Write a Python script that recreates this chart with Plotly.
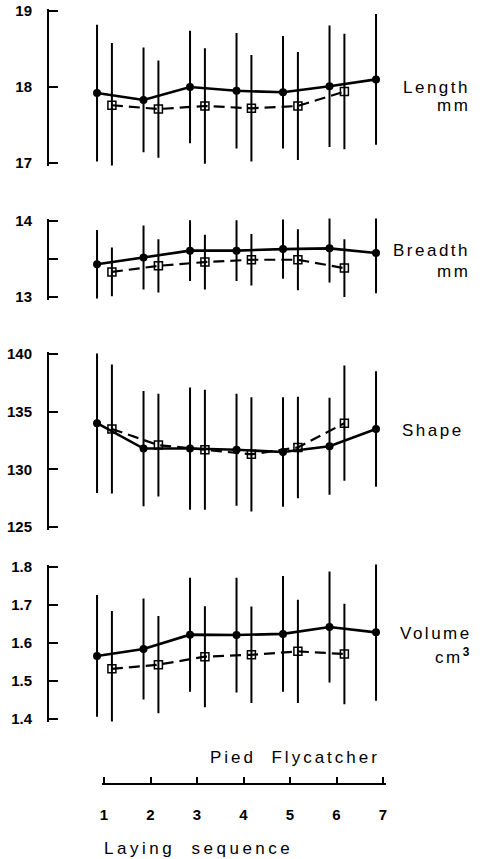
import plotly.graph_objects as go

# ---------------- data ----------------
seq_a = [1, 2, 3, 4, 5, 6, 7]
seq_b = [1, 2, 3, 4, 5, 6]
x_ticks = [1, 2, 3, 4, 5, 6, 7]

length_mean_a = [17.92, 17.83, 18.00, 17.95, 17.93, 18.01, 18.10]
length_sd_a = [0.90, 0.69, 0.74, 0.76, 0.74, 0.80, 0.86]
length_mean_b = [17.76, 17.71, 17.75, 17.72, 17.75, 17.94]
length_sd_b = [0.82, 0.64, 0.76, 0.70, 0.71, 0.76]

breadth_mean_a = [13.43, 13.52, 13.61, 13.61, 13.63, 13.64, 13.58]
breadth_sd_a = [0.45, 0.42, 0.40, 0.40, 0.39, 0.45, 0.53]
breadth_mean_b = [13.33, 13.41, 13.46, 13.49, 13.49, 13.38]
breadth_sd_b = [0.32, 0.35, 0.36, 0.34, 0.40, 0.38]

shape_mean_a = [134.0, 131.8, 131.8, 131.7, 131.5, 132.0, 133.5]
shape_sd_a = [6.05, 5.0, 5.3, 4.85, 4.75, 4.2, 5.0]
shape_mean_b = [133.5, 132.1, 131.7, 131.3, 131.9, 134.0]
shape_sd_b = [5.6, 4.45, 5.2, 4.95, 4.4, 5.0]

volume_mean_a = [1.566, 1.584, 1.622, 1.621, 1.624, 1.642, 1.628]
volume_sd_a = [0.160, 0.133, 0.150, 0.151, 0.152, 0.146, 0.180]
volume_mean_b = [1.532, 1.543, 1.564, 1.569, 1.578, 1.571]
volume_sd_b = [0.152, 0.128, 0.133, 0.127, 0.136, 0.132]

length_ticks = [17, 18, 19]
breadth_ticks = [13, 13.5, 14]
breadth_ticktext = ["13", " ", "14"]
shape_ticks = [125, 130, 135, 140]
volume_ticks = [1.4, 1.5, 1.6, 1.7, 1.8]
volume_ticktext = ["1.4", "1.5", "1.6", "1.7", "1.8"]

# ---------------- layout helpers ----------------
W, H = 482, 859
PAD = 2.5  # px of axis beyond the end ticks, so plotly keeps the end ticks
def px_x(p):
    return p / W
def px_y(p):
    return 1 - p / H

def y_geom(v0, p0, v1, p1):
    """value v0 at pixel row p0 (bottom), v1 at p1 (top) -> (domain, range)."""
    scale = (p0 - p1) / (v1 - v0)
    return ([px_y(p0 + PAD), px_y(p1 - PAD)], [v0 - PAD / scale, v1 + PAD / scale])

OFF_A = -0.15   # horizontal shift of filled-circle series
OFF_B = 0.17    # horizontal shift of open-square series

panels = [
    ("y", length_mean_a, length_sd_a, length_mean_b, length_sd_b),
    ("y2", breadth_mean_a, breadth_sd_a, breadth_mean_b, breadth_sd_b),
    ("y3", shape_mean_a, shape_sd_a, shape_mean_b, shape_sd_b),
    ("y4", volume_mean_a, volume_sd_a, volume_mean_b, volume_sd_b),
]

fig = go.Figure()
for yax, ma, sa, mb, sb in panels:
    fig.add_trace(go.Scatter(
        x=[s + OFF_B for s in seq_b], y=mb, xaxis="x", yaxis=yax,
        mode="lines+markers", cliponaxis=False, showlegend=False,
        line=dict(color="black", width=2.2, dash="11px,6px"),
        marker=dict(symbol="square-open", size=8, color="black", line=dict(width=1.5)),
        error_y=dict(type="data", array=sb, visible=True, color="black", thickness=2, width=0),
    ))
    fig.add_trace(go.Scatter(
        x=[s + OFF_A for s in seq_a], y=ma, xaxis="x", yaxis=yax,
        mode="lines+markers", cliponaxis=False, showlegend=False,
        line=dict(color="black", width=2.6),
        marker=dict(symbol="circle", size=8, color="black"),
        error_y=dict(type="data", array=sa, visible=True, color="black", thickness=2, width=0),
    ))

# dummy trace for the separate laying-sequence axis
fig.add_trace(go.Scatter(x=[], y=[], xaxis="x5", yaxis="y5", showlegend=False))

tickfont = dict(family="Liberation Sans", size=15, color="black", weight="bold")
yax_common = dict(
    anchor="x", showline=True, linewidth=2, linecolor="black", automargin=False,
    ticks="inside", ticklen=9, tickwidth=2, tickcolor="black", showgrid=False,
    zeroline=False, tickfont=tickfont, ticklabelstandoff=12, tickmode="array",
)

# shared x axis: domain starts at the y-axis line (49px); x=1 -> 104px, x=7 -> 383px
AX_LEFT = 49
u = (383 - 104) / 6
x_lo = 1 - (104 - AX_LEFT) / u
x_hi = 7 + (W - 383) / u

d1, r1 = y_geom(17, 163, 19, 11)
d2, r2 = y_geom(13, 297, 14, 221)
d3, r3 = y_geom(125, 527, 140, 354)
d4, r4 = y_geom(1.4, 719, 1.8, 567)

fig.update_layout(
    width=W, height=H, margin=dict(l=0, r=0, t=0, b=0, autoexpand=False),
    paper_bgcolor="white", plot_bgcolor="rgba(0,0,0,0)",
    xaxis=dict(domain=[px_x(AX_LEFT), 1], range=[x_lo, x_hi], visible=False, anchor="y",
               automargin=False),
    yaxis=dict(domain=d1, range=r1, tickvals=length_ticks, **yax_common),
    yaxis2=dict(domain=d2, range=r2, tickvals=breadth_ticks, ticktext=breadth_ticktext, **yax_common),
    yaxis3=dict(domain=d3, range=r3, tickvals=shape_ticks, **yax_common),
    yaxis4=dict(domain=d4, range=r4, tickvals=volume_ticks, ticktext=volume_ticktext, **yax_common),
    xaxis5=dict(domain=[px_x(104 - PAD), px_x(383 + PAD)], range=[1 - PAD / u, 7 + PAD / u],
                anchor="y5", tickmode="array",
                tickvals=x_ticks, showline=True, linewidth=2, linecolor="black",
                ticks="inside", ticklen=6, tickwidth=1.5, tickcolor="black", automargin=False,
                showgrid=False, zeroline=False, tickfont=tickfont, ticklabelstandoff=17),
    yaxis5=dict(domain=[px_y(783), px_y(770)], visible=False, range=[0, 1], automargin=False),
)

label_font = dict(family="Liberation Sans", size=17, color="black")
def spaced(t, s=2.5):
    return f'<span style="letter-spacing:{s}px">{t}</span>'

ann = [
    ("Length", 472, 87), ("mm", 472, 106),
    ("Breadth", 472, 251), ("mm", 472, 272),
    ("Shape", 466, 430),
    ("Volume", 474, 633), ("cm<sup><b>3</b></sup>", 474, 656),
]
for t, xr, yc in ann:
    fig.add_annotation(text=spaced(t), x=px_x(xr), y=px_y(yc), xref="paper", yref="paper",
                       xanchor="right", yanchor="middle", showarrow=False, font=label_font)

fig.add_annotation(text=spaced("Pied  Flycatcher", 3), x=px_x(208), y=px_y(757), xref="paper", yref="paper",
                   xanchor="left", yanchor="middle", showarrow=False, font=label_font)
fig.add_annotation(text=spaced("Laying  sequence", 3.5), x=px_x(102), y=px_y(848), xref="paper", yref="paper",
                   xanchor="left", yanchor="middle", showarrow=False, font=label_font)

fig.write_html("out.html", config={"displayModeBar": False},
               post_script="document.body.style.margin='0';document.body.style.overflow='hidden';")
